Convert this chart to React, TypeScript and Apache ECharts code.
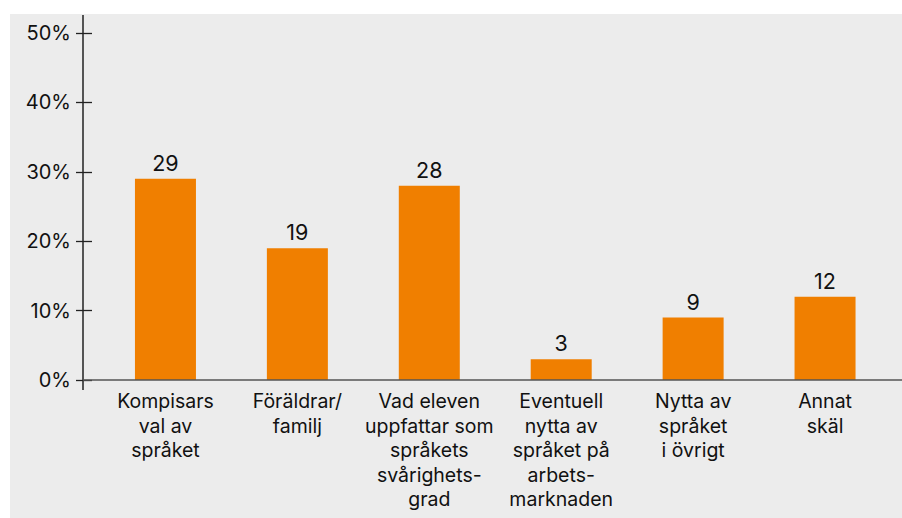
import React, { useEffect, useRef } from "react";
import * as echarts from "echarts";

const categories = [
  "Kompisars\nval av\nspråket",
  "Föräldrar/\nfamilj",
  "Vad eleven\nuppfattar som\nspråkets\nsvårighets-\ngrad",
  "Eventuell\nnytta av\nspråket på\narbets-\nmarknaden",
  "Nytta av\nspråket\ni övrigt",
  "Annat\nskäl",
];
const values = [29, 19, 28, 3, 9, 12];
const yTicks = [0, 10, 20, 30, 40, 50];

const FONT = "Inter, 'Noto Sans', sans-serif";

export default function App() {
  const ref = useRef<HTMLDivElement>(null);
  useEffect(() => {
    if (!ref.current) return;
    const chart = echarts.init(ref.current, null, { renderer: "svg" });
    const gridLeft = 99.5;
    const gridRight = 11;
    const gridTop = 33;
    const gridBottom = 138;
    chart.setOption({
      animation: false,
      backgroundColor: "transparent",
      textStyle: { fontFamily: FONT },
      grid: { left: gridLeft, right: gridRight, top: gridTop, bottom: gridBottom },
      xAxis: {
        type: "category",
        data: categories,
        axisLine: { show: false },
        axisTick: { show: false },
        axisLabel: {
          interval: 0,
          margin: 9,
          color: "#111",
          fontSize: 19.5,
          lineHeight: 24.5,
          fontFamily: FONT,
          align: "center",
        },
      },
      yAxis: {
        type: "value",
        min: yTicks[0],
        max: yTicks[yTicks.length - 1],
        interval: 10,
        offset: 7.5,
        axisLine: { show: false },
        axisTick: { show: true, length: 16, lineStyle: { color: "#222", width: 1.3 } },
        splitLine: { show: false },
        axisLabel: {
          margin: 21,
          color: "#111",
          fontSize: 20,
          fontFamily: FONT,
          formatter: "{value}%",
        },
      },
      graphic: [
        {
          type: "line",
          shape: { x1: 83, y1: 15, x2: 83, y2: 390 },
          style: { stroke: "#222", lineWidth: 1.5 },
          z: 10,
        },
        {
          type: "line",
          shape: { x1: 83, y1: 380, x2: 902, y2: 380 },
          style: { stroke: "#555", lineWidth: 1.5 },
          z: 10,
        },
      ],
      series: [
        {
          type: "bar",
          data: values,
          barWidth: 61,
          itemStyle: { color: "#F07F00" },
          label: {
            show: true,
            position: "top",
            distance: 5,
            color: "#111",
            fontSize: 21.5,
            fontFamily: FONT,
          },
        },
      ],
    });
    return () => chart.dispose();
  }, []);
  return (
    <div
      style={{
        position: "absolute",
        left: 0,
        top: 0,
        width: 902,
        height: 518,
        background: "#fff",
      }}
    >
      <div
        style={{
          position: "absolute",
          left: 10,
          top: 14,
          width: 892,
          height: 504,
          background: "#ececec",
        }}
      />
      <div ref={ref} style={{ position: "absolute", left: 0, top: 0, width: 902, height: 518 }} />
    </div>
  );
}
